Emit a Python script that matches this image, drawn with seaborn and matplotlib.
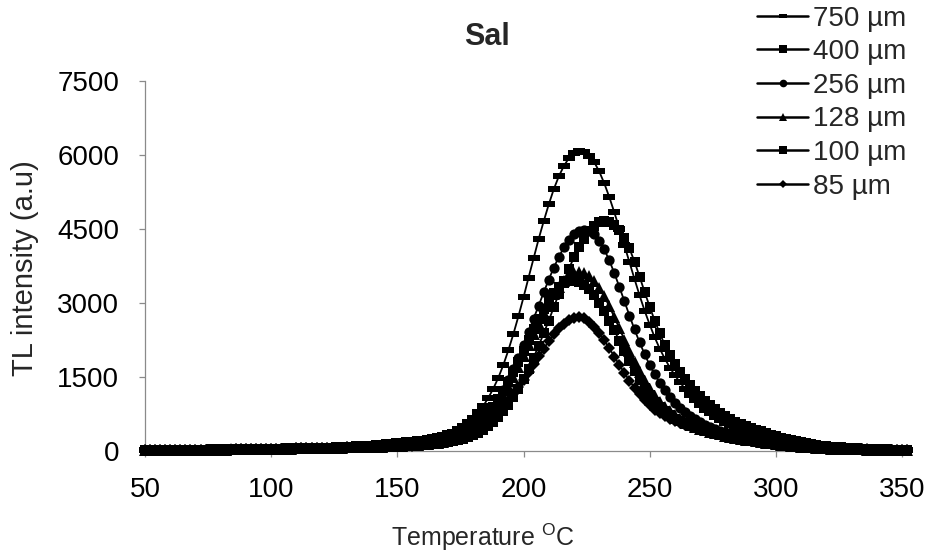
import matplotlib
matplotlib.use("Agg")
import matplotlib.pyplot as plt
from matplotlib.path import Path
from matplotlib.lines import Line2D
import seaborn as sns

# ---------------- data ----------------
temperature = list(range(50, 353, 2))

labels = ["750 µm", "400 µm", "256 µm", "128 µm", "100 µm", "85 µm"]

tl_750 = [30, 30, 31, 32, 33, 34, 35, 36, 37, 38, 40, 41, 42, 43, 44, 45, 47, 49, 51, 53,
          55, 57, 59, 61, 63, 65, 68, 71, 74, 77, 80, 84, 88, 92, 96, 100, 105, 110, 115, 120,
          125, 130, 135, 140, 145, 150,
          158, 166, 175, 185, 195, 205, 215, 225, 238, 250, 265, 280, 300, 325, 355, 390, 440, 500, 580, 670,
          780, 910, 1070, 1260, 1480, 1740, 2040, 2370, 2730, 3110, 3510, 3900, 4290, 4650, 4990, 5300, 5560, 5770, 5930, 6030,
          6070, 6050, 5980, 5850, 5660, 5420, 5140, 4830, 4500, 4160, 3820, 3480, 3150, 2840, 2560, 2300, 2070, 1870, 1690, 1530,
          1390, 1260, 1140, 1030, 930, 840, 760, 690, 630, 570, 520, 475, 435, 400, 365, 335, 305, 275, 250, 225,
          200, 178, 158, 140, 123, 108, 94, 82, 72, 63, 56, 50, 45, 40, 36,
          33, 31, 29, 28, 27, 26, 25, 25, 24, 24, 23]

tl_400 = [22, 22, 23, 23, 24, 24, 25, 25, 26, 27, 28, 29, 30, 31, 32, 33, 34, 35, 36, 37,
          38, 39, 40, 42, 44, 46, 48, 50, 52, 54, 56, 58, 60, 62, 64, 66, 68, 70, 72, 74,
          76, 78, 80, 82, 85, 88,
          90, 93, 96, 100, 104, 108, 112, 116, 121, 127, 134, 142, 152, 165, 180, 198, 220, 248, 282, 320,
          370, 430, 500, 580, 680, 800, 930, 1090, 1260, 1450, 1660, 1890, 2130, 2380, 2640, 2910, 3180, 3440, 3690, 3920,
          4120, 4300, 4450, 4560, 4630, 4650, 4630, 4570, 4470, 4320, 4100, 3830, 3530, 3220, 2920, 2640, 2380, 2150, 1940, 1760,
          1600, 1460, 1330, 1220, 1120, 1020, 930, 850, 770, 700, 640, 590, 545, 505, 465, 430, 395, 360, 330, 300,
          270, 245, 220, 200, 180, 160, 140, 125, 110, 100, 90, 80, 72, 65, 58,
          52, 47, 43, 40, 37, 34, 32, 30, 28, 26, 25]

tl_256 = [20, 20, 21, 21, 22, 22, 23, 23, 24, 25, 26, 27, 28, 29, 30, 31, 32, 33, 34, 35,
          36, 37, 38, 40, 42, 44, 46, 48, 50, 52, 54, 56, 58, 60, 62, 64, 66, 68, 70, 72,
          74, 76, 78, 80, 83, 86,
          90, 95, 100, 105, 110, 115, 120, 125, 130, 140, 150, 160, 175, 195, 220, 250, 290, 330, 390, 460,
          540, 640, 760, 900, 1050, 1240, 1430, 1660, 1890, 2150, 2400, 2680, 2940, 3210, 3470, 3710, 3930, 4120, 4270, 4390,
          4460, 4480, 4460, 4390, 4260, 4080, 3860, 3600, 3320, 3030, 2740, 2460, 2200, 1960, 1740, 1550, 1380, 1230, 1100, 980,
          880, 790, 710, 640, 580, 530, 485, 445, 410, 380, 350, 325, 300, 280, 260, 240, 220, 200, 185, 170,
          155, 140, 125, 112, 100, 90, 80, 72, 65, 58, 52, 47, 43, 40, 37,
          35, 33, 31, 30, 29, 28, 27, 26, 25, 24, 23]

tl_128 = [18, 18, 19, 19, 20, 20, 21, 21, 22, 23, 24, 25, 26, 27, 28, 29, 30, 31, 32, 33,
          34, 35, 36, 38, 40, 42, 44, 46, 48, 50, 52, 54, 56, 58, 60, 62, 64, 66, 68, 70,
          72, 74, 76, 78, 80, 82,
          85, 90, 95, 100, 105, 110, 115, 120, 125, 135, 145, 155, 170, 190, 215, 245, 280, 320, 375, 440,
          520, 610, 720, 840, 980, 1130, 1310, 1500, 1710, 1920, 2140, 2360, 2580, 2790, 2990, 3170, 3320, 3450, 3550, 3600,
          3620, 3600, 3540, 3440, 3300, 3130, 2930, 2710, 2480, 2250, 2020, 1800, 1600, 1420, 1260, 1120, 1000, 890, 800, 720,
          650, 590, 540, 495, 455, 420, 390, 360, 335, 310, 290, 270, 250, 232, 215, 200, 185, 170, 156, 143,
          130, 118, 107, 97, 88, 80, 72, 65, 59, 54, 49, 45, 41, 38, 35,
          33, 31, 30, 29, 28, 27, 26, 25, 24, 23, 22]

tl_100 = [19, 19, 20, 20, 21, 21, 22, 22, 23, 24, 25, 26, 27, 28, 29, 30, 31, 32, 33, 34,
          35, 36, 37, 39, 41, 43, 45, 47, 49, 51, 53, 55, 57, 59, 61, 63, 65, 67, 69, 71,
          73, 75, 77, 79, 81, 83,
          85, 90, 95, 100, 105, 110, 115, 120, 128, 137, 148, 160, 178, 200, 228, 262, 300, 350, 410, 480,
          560, 660, 770, 900, 1050, 1220, 1400, 1600, 1810, 2030, 2250, 2470, 2680, 2870, 3050, 3200, 3320, 3400, 3445, 3445,
          3420, 3360, 3270, 3150, 3000, 2830, 2640, 2440, 2230, 2020, 1820, 1620, 1440, 1280, 1130, 1000, 890, 800, 720, 655,
          600, 550, 505, 465, 430, 400, 370, 345, 320, 298, 276, 256, 237, 220, 204, 189, 175, 161, 148, 136,
          124, 113, 103, 93, 84, 76, 69, 62, 56, 51, 47, 43, 40, 37, 34,
          32, 30, 29, 28, 27, 26, 25, 24, 23, 22, 21]

tl_85 = [17, 17, 18, 18, 19, 19, 20, 20, 21, 22, 23, 24, 25, 26, 27, 28, 29, 30, 31, 32,
         33, 34, 35, 37, 39, 41, 43, 45, 47, 49, 51, 53, 55, 57, 59, 61, 63, 65, 67, 69,
         71, 72, 74, 75, 77, 78,
         80, 84, 88, 92, 96, 100, 105, 110, 116, 123, 132, 142, 155, 172, 193, 220, 252, 290, 335, 390,
         450, 520, 600, 690, 790, 900, 1020, 1150, 1290, 1440, 1600, 1760, 1920, 2070, 2220, 2360, 2480, 2580, 2655, 2700,
         2720, 2690, 2620, 2520, 2390, 2240, 2080, 1910, 1740, 1580, 1420, 1280, 1150, 1030, 930, 840, 765, 700, 645, 600,
         560, 530, 505, 480, 455, 430, 405, 380, 355, 330, 310, 290, 270, 250, 230, 212, 195, 180, 165, 150,
         138, 126, 115, 104, 94, 85, 77, 70, 63, 57, 52, 47, 43, 40, 37,
         35, 33, 31, 30, 29, 28, 27, 26, 25, 24, 23]

x_ticks = [50, 100, 150, 200, 250, 300, 350]
y_ticks = [0, 1500, 3000, 4500, 6000, 7500]

series = [tl_750, tl_400, tl_256, tl_128, tl_100, tl_85]
for s, lab in zip(series, labels):
    assert len(s) == len(temperature), (lab, len(s), len(temperature))

# ---------------- style ----------------
sns.set_style("white")
plt.rcParams["font.family"] = ["Liberation Sans", "DejaVu Sans"]
plt.rcParams["mathtext.fontset"] = "custom"
plt.rcParams["mathtext.rm"] = "Liberation Sans"

dash = Path([(-1, -0.42), (1, -0.42), (1, 0.42), (-1, 0.42), (-1, -0.42)],
            [Path.MOVETO, Path.LINETO, Path.LINETO, Path.LINETO, Path.CLOSEPOLY])

plot_markers = [dash, "s", "o", "^", "s", "D"]
plot_ms = [9.0, 6.8, 7.4, 8.0, 6.8, 6.4]
leg_markers = [dash, "s", "o", "^", "s", "D"]
leg_ms = [6.0, 6.0, 5.5, 6.0, 6.0, 4.5]

fig = plt.figure(figsize=(9.31, 5.56), dpi=100)
ax = fig.add_axes([145 / 931, 105 / 556, 757 / 931, 370.5 / 556])

order = [5, 4, 3, 2, 1, 0]
for i in order:
    sns.lineplot(x=temperature, y=series[i], ax=ax, color="black", lw=1.3,
                 marker=plot_markers[i], markersize=plot_ms[i], markeredgewidth=0,
                 markerfacecolor="black", legend=False, clip_on=False, zorder=3 + (5 - i))

ax.set_xlim(50, 350)
ax.set_ylim(0, 7500)
ax.set_xticks(x_ticks)
ax.set_yticks(y_ticks)
ax.set_xticklabels([str(t) for t in x_ticks])
ax.set_yticklabels([str(t) for t in y_ticks])

for side in ["top", "right"]:
    ax.spines[side].set_visible(False)
for side in ["left", "bottom"]:
    ax.spines[side].set_color("#8a8a8a")
    ax.spines[side].set_linewidth(0.9)

ax.tick_params(axis="both", which="major", direction="out", length=4.5, width=0.9,
               color="#8a8a8a", labelsize=20, labelcolor="black")
ax.tick_params(axis="y", pad=14, left=True)
ax.tick_params(axis="x", pad=14, bottom=True)

ax.set_xlabel("Temperature $^{\\mathrm{O}}$C", fontsize=18)
ax.set_ylabel("TL intensity (a.u)", fontsize=21)
ax.xaxis.set_label_coords((483 - 145) / 757, (451 - 537) / 371)
ax.xaxis.label.set_va("center")
ax.yaxis.set_label_coords((25 - 145) / 757, (451 - 268) / 371)
ax.yaxis.label.set_va("center")

fig.text(487 / 931, 1 - 37 / 556, "Sal", ha="center", va="center",
         fontsize=22, fontweight="bold")

handles = [Line2D([], [], color="black", lw=1.8, marker=m, markersize=s,
                  markeredgewidth=0, markerfacecolor="black")
           for m, s in zip(leg_markers, leg_ms)]
fig.legend(handles, labels, loc="upper left", bbox_to_anchor=(757 / 931, 0.990),
           frameon=False, fontsize=20, handlelength=1.85, handletextpad=0.15,
           labelspacing=0.275, borderpad=0, borderaxespad=0)

fig.savefig("out.png", dpi=100)
